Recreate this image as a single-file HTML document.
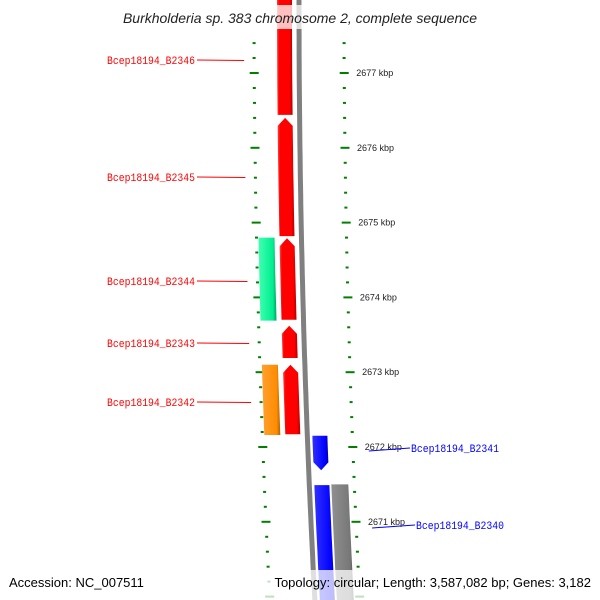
<!DOCTYPE html>
<html><head><meta charset="utf-8"><style>
body{margin:0;background:#fff}
svg{display:block;font-family:"Liberation Sans",sans-serif}
</style></head><body>
<svg id="c" width="600" height="600" viewBox="0 0 600 600">
<defs>
<linearGradient id="gr" x1="0" x2="1"><stop offset="0" stop-color="#ff4040"/><stop offset="0.15" stop-color="#ff0000"/><stop offset="0.8" stop-color="#f00"/><stop offset="1" stop-color="#b00000"/></linearGradient>
<linearGradient id="gg" x1="0" x2="1"><stop offset="0" stop-color="#40ffb0"/><stop offset="0.8" stop-color="#00ee90"/><stop offset="1" stop-color="#00a060"/></linearGradient>
<linearGradient id="go" x1="0" x2="1"><stop offset="0" stop-color="#ffa030"/><stop offset="0.8" stop-color="#ff8c00"/><stop offset="1" stop-color="#b06000"/></linearGradient>
<linearGradient id="gb" x1="0" x2="1"><stop offset="0" stop-color="#3030ff"/><stop offset="0.8" stop-color="#0000ff"/><stop offset="1" stop-color="#0000a0"/></linearGradient>
<linearGradient id="gy" x1="0" x2="1"><stop offset="0" stop-color="#909090"/><stop offset="0.8" stop-color="#777"/><stop offset="1" stop-color="#444"/></linearGradient>
</defs>
<g id="marks"></g>
<rect x="100" y="5" width="400" height="24" fill="#fff" opacity="0.75"/>
<text x="300" y="23" text-anchor="middle" font-size="14" font-style="italic" fill="#222">Burkholderia sp. 383 chromosome 2, complete sequence</text>
<rect x="258" y="570" width="340" height="30" fill="#fff" opacity="0.75"/>
<text x="9" y="587" font-size="13" fill="#000">Accession: NC_007511</text>
<text x="591" y="587" font-size="13" fill="#000" text-anchor="end">Topology: circular; Length: 3,587,082 bp; Genes: 3,182</text>
</svg>
<script>
const tickStart = 2669.6, tickEnd = 2678.0;
const kbpLabels = [2677, 2676, 2675, 2674, 2673, 2672, 2671];
const geneNames = ["Bcep18194_B2346","Bcep18194_B2345","Bcep18194_B2344","Bcep18194_B2343","Bcep18194_B2342","Bcep18194_B2341","Bcep18194_B2340"];
const geneStart = [2676.44, 2674.82, 2673.70, 2673.19, 2672.17, 2671.69, 2669.7];
const geneEnd   = [2678.2, 2676.40, 2674.79, 2673.62, 2673.10, 2672.15, 2671.49];
const geneStrand = [1, 1, 1, 1, 1, -1, -1];
const cogStart = [2673.69, 2672.16, 2669.7];
const cogEnd   = [2674.80, 2673.10, 2671.50];
const cogColor = ["url(#gg)", "url(#go)", "url(#gy)"];
const cogTrack = ["in", "in", "outer"];
const labelY = [60, 177, 281, 343, 402, 448, 525];

const NS = "http://www.w3.org/2000/svg";
const g = document.getElementById("marks");
function yS(k){ return 73 + (2677 - k) * 74.8; }
function off(y){ return 4.4e-5 * y * y; }
function mk(t, a){ const e = document.createElementNS(NS, t); for (const k in a) e.setAttribute(k, a[k]); g.appendChild(e); return e; }
const track = { red:[277,292], in:[256,272], blue:[304,319], outer:[321,338] };
function band(y1, y2, x1, x2, tipTop, tipBot){
  const pts = [];
  const a = Math.min(y1,y2), b = Math.max(y1,y2);
  const p = (x,y)=>[x+off(y), y];
  const xm = (x1+x2)/2;
  if (tipTop){ pts.push(p(x1,a+8), p(xm,a), p(x2,a+8)); } else { pts.push(p(x1,a), p(x2,a)); }
  for (let y=a+10; y<b; y+=20) pts.push(p(x2,y));
  if (tipBot){ pts.push(p(x2,b-8), p(xm,b), p(x1,b-8)); } else { pts.push(p(x2,b), p(x1,b)); }
  for (let y=b-10; y>a; y-=20) pts.push(p(x1,y));
  return pts.map(q=>q[0].toFixed(1)+","+q[1].toFixed(1)).join(" ");
}
// backbone
let d = "";
for (let y=-5; y<=605; y+=10) d += (y<0?"M":"L") + (299+off(y)).toFixed(1) + "," + y;
let e = mk("path", {d:d, stroke:"#808080", "stroke-width":5, fill:"none"});


// ticks
for (let i=0; i*0.2+tickStart <= tickEnd + 1e-6; i++){
  const k = tickStart + i*0.2;
  const y = yS(k);
  if (y < 35 || y > 600) continue;
  const major = Math.abs(k - Math.round(k)) < 0.01;
  const w = major ? 9 : 3;
  for (const bx of [254, 344]){
    const x = bx + off(y);
    const t = mk("rect", {x:(x-w/2).toFixed(1), y:(y-1).toFixed(1), width:w, height:2, fill:"#008000"});
    
    
  }
}
kbpLabels.forEach(k=>{
  const y = yS(k);
  const t = mk("text", {x:(356+off(y)).toFixed(1), y:(y+3).toFixed(1), "font-size":9, fill:"#222"});
  t.textContent = k + " kbp";
  
  
});
// cog tracks
cogStart.forEach((s,i)=>{
  const tr = track[cogTrack[i]];
  const r = mk("polygon", {points: band(yS(cogEnd[i]), yS(s), tr[0], tr[1], false, false), fill: cogColor[i]});
  
  
});
// genes
geneStart.forEach((s,i)=>{
  const fwd = geneStrand[i] > 0;
  const tr = fwd ? track.red : track.blue;
  const r = mk("polygon", {points: band(yS(geneEnd[i]), yS(s), tr[0], tr[1], fwd, !fwd), fill: fwd ? "url(#gr)" : "url(#gb)"});
  
  
  const ly = labelY[i];
  const col = fwd ? "#ff0000" : "#0000ff";
  if (fwd){
    const l = mk("line", {x1:197, y1:ly, x2:244+off(ly), y2:ly+0.5, stroke:col, "stroke-width":1});
    
    
    const t = mk("text", {x:195, y:ly+4, "text-anchor":"end", "font-size":11, fill:col, "font-family":"Liberation Mono, monospace", textLength:88, lengthAdjust:"spacingAndGlyphs"});
    t.textContent = geneNames[i];
    
    
  } else {
    const l = mk("line", {x1:352+off(ly)+8, y1:ly+3, x2:410+(i==6?5:0), y2:ly, stroke:col, "stroke-width":1});
    
    
    const t = mk("text", {x:411+(i==6?5:0), y:ly+4, "font-size":11, fill:col, "font-family":"Liberation Mono, monospace", textLength:88, lengthAdjust:"spacingAndGlyphs"});
    t.textContent = geneNames[i];
    
    
  }
});
</script>
</body></html>
